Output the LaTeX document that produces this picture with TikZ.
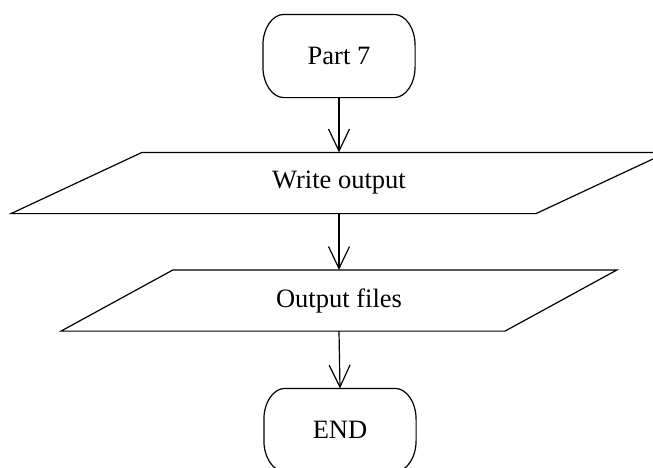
\documentclass[tikz,border=0pt]{standalone}
\usepackage{fontspec}
\setmainfont{Liberation Serif}
\usetikzlibrary{arrows.meta}
\begin{document}
\begin{tikzpicture}[x=1pt,y=-1pt,line width=1.2pt,
  txt/.style={font=\fontsize{26.5}{30}\selectfont, inner sep=0pt},
  term/.style={txt, minimum width=151pt, minimum height=82pt},
  io/.style={txt, minimum height=60pt, minimum width=20pt},
  arr/.style={-{Straight Barb[length=22pt,width=21pt]}}]
\useasboundingbox (0,0) rectangle (653,467);
\clip (0,0) rectangle (653,467);
\newcommand\termbox[1]{%
  \draw ([xshift=21pt]#1.north west) -- ([xshift=-21pt]#1.north east)
    arc[start angle=90, end angle=0, x radius=21pt, y radius=31pt]
    -- ([yshift=31pt]#1.south east)
    arc[start angle=0, end angle=-90, x radius=21pt, y radius=31pt]
    -- ([xshift=21pt]#1.south west)
    arc[start angle=270, end angle=180, x radius=21pt, y radius=31pt]
    -- ([yshift=-31pt]#1.north west)
    arc[start angle=180, end angle=90, x radius=21pt, y radius=31pt] -- cycle;}
\node[term] (p7) at (339,56) {Part 7};
\termbox{p7}
\node[io] (wo) at (339,183) {Write output};
\draw ([xshift=-197pt]wo.north) -- ([xshift=328pt]wo.north) -- ([xshift=197pt]wo.south) -- ([xshift=-328pt]wo.south) -- cycle;
\node[io] (of) at (339,300.5) {Output files};
\draw ([xshift=-166pt]of.north) -- ([xshift=278pt]of.north) -- ([xshift=166pt]of.south) -- ([xshift=-278pt]of.south) -- cycle;
\node[term] (end) at (340,430) {END};
\termbox{end}
\draw[arr] (p7.south) -- (wo.north);
\draw[arr] (wo.south) -- (of.north);
\draw[arr] (of.south) -- (end.north);
\end{tikzpicture}
\end{document}
